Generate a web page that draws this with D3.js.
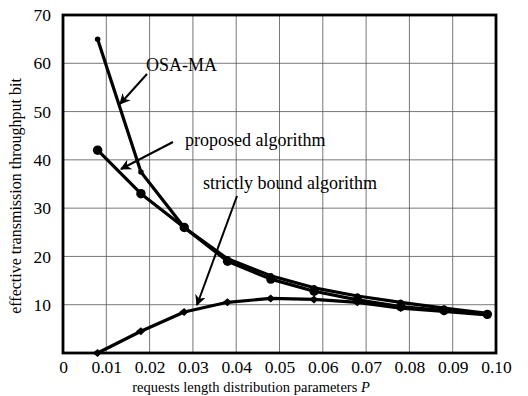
<!DOCTYPE html>
<html>
<head>
<meta charset="utf-8">
<script src="https://cdn.jsdelivr.net/npm/d3@7"></script>
<style>
  body { margin: 0; background: #fff; }
  text { font-family: "Liberation Serif", "DejaVu Serif", serif; fill: #000; }
</style>
</head>
<body>
<div id="chart"></div>
<script>
// values
const P = [0.008, 0.018, 0.028, 0.038, 0.048, 0.058, 0.068, 0.078, 0.088, 0.098];
const osaMA = [65, 37.5, 26, 19.5, 16, 13.5, 11.8, 10.5, 9.3, 8.2];
const proposed = [42, 33, 26, 19, 15.3, 12.8, 11, 9.6, 8.8, 8.0];
const strictly = [0, 4.5, 8.5, 10.5, 11.3, 11.1, 10.5, 9.3, 8.6, 7.9];

const xTicks = [0, 0.01, 0.02, 0.03, 0.04, 0.05, 0.06, 0.07, 0.08, 0.09, 0.10];
const yTicks = [10, 20, 30, 40, 50, 60, 70];

const W = 528, H = 396;
const margin = {left: 63, right: 32, top: 15, bottom: 43};
const width = W - margin.left - margin.right;
const height = H - margin.top - margin.bottom;

const svg = d3.select("#chart").append("svg")
  .attr("width", W).attr("height", H);

svg.append("defs").append("marker")
  .attr("id", "arrow")
  .attr("viewBox", "0 0 10 10")
  .attr("refX", 9).attr("refY", 5)
  .attr("markerWidth", 11).attr("markerHeight", 11)
  .attr("markerUnits", "userSpaceOnUse")
  .attr("orient", "auto")
  .append("path").attr("d", "M0,0 L10,5 L0,10 L3,5 Z").attr("fill", "#000");

const g = svg.append("g")
  .attr("transform", "translate(" + margin.left + "," + margin.top + ")");

const x = d3.scaleLinear().domain([0, 0.1]).range([0, width]);
const y = d3.scaleLinear().domain([0, 70]).range([height, 0]);

// grid
g.append("g").selectAll("line").data(xTicks.slice(1, -1)).join("line")
  .attr("x1", d => x(d)).attr("x2", d => x(d))
  .attr("y1", 0).attr("y2", height)
  .attr("stroke", "#555").attr("stroke-width", 0.8);
g.append("g").selectAll("line").data(yTicks.slice(0, -1)).join("line")
  .attr("y1", d => y(d)).attr("y2", d => y(d))
  .attr("x1", 0).attr("x2", width)
  .attr("stroke", "#555").attr("stroke-width", 0.8);

// axes (labels only)
const xAxis = g.append("g")
  .attr("transform", "translate(0," + height + ")")
  .call(d3.axisBottom(x).tickValues(xTicks).tickSize(0).tickPadding(8)
    .tickFormat(d => d === 0 ? "0" : d3.format(".2f")(d)));
xAxis.select(".domain").remove();
xAxis.selectAll("text").style("font-size", "17.5px").style("font-family", "Liberation Serif");

const yAxis = g.append("g")
  .call(d3.axisLeft(y).tickValues(yTicks).tickSize(0).tickPadding(12));
yAxis.select(".domain").remove();
yAxis.selectAll("text").style("font-size", "17.5px").style("font-family", "Liberation Serif");

// frame
g.append("rect")
  .attr("x", 0).attr("y", 0).attr("width", width).attr("height", height)
  .attr("fill", "none").attr("stroke", "#000").attr("stroke-width", 2.8);

const line = d3.line().x((d, i) => x(P[i])).y(d => y(d));

function series(vals, marker) {
  g.append("path").datum(vals)
    .attr("fill", "none").attr("stroke", "#000")
    .attr("stroke-width", 3.2).attr("stroke-linejoin", "round")
    .attr("d", line);
  const pts = g.append("g").selectAll("path").data(vals).join("path")
    .attr("transform", (d, i) => "translate(" + x(P[i]) + "," + y(d) + ")")
    .attr("fill", "#000");
  if (marker === "big") pts.attr("d", d3.symbol(d3.symbolCircle, 70)());
  else if (marker === "small") pts.attr("d", d3.symbol(d3.symbolCircle, 24)());
  else pts.attr("d", "M-5,0 L0,-4 L4,0 L0,4 Z");
}

series(osaMA, "small");
series(proposed, "big");
series(strictly, "tri");

// annotations
const notes = [
  {label: "OSA-MA", tx: 146, ty: 71, x1: 147, y1: 74, x2: 120, y2: 104},
  {label: "proposed algorithm", tx: 185, ty: 146, x1: 173, y1: 142, x2: 121, y2: 169},
  {label: "strictly bound algorithm", tx: 203, ty: 189, x1: 237, y1: 196, x2: 197, y2: 305}
];
notes.forEach(n => {
  svg.append("text").attr("x", n.tx).attr("y", n.ty)
    .style("font-size", "18px").text(n.label);
  svg.append("line")
    .attr("x1", n.x1).attr("y1", n.y1).attr("x2", n.x2).attr("y2", n.y2)
    .attr("stroke", "#000").attr("stroke-width", 2)
    .attr("marker-end", "url(#arrow)");
});

// axis titles
svg.append("text")
  .attr("transform", "translate(21,196) rotate(-90)")
  .attr("text-anchor", "middle").style("font-size", "16px")
  .text("effective transmission throughput bit");

const xt = svg.append("text")
  .attr("x", 251).attr("y", 392)
  .attr("text-anchor", "middle").style("font-size", "14.5px");
xt.append("tspan").text("requests length distribution parameters ");
xt.append("tspan").style("font-style", "italic").text("P");
</script>
</body>
</html>
